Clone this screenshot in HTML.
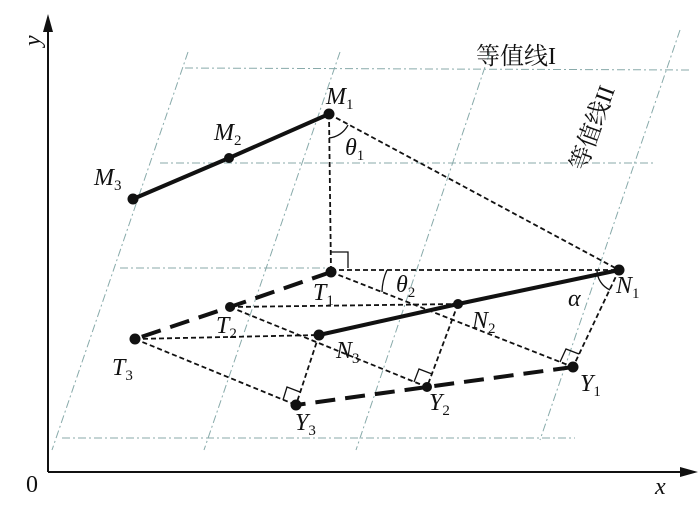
<!DOCTYPE html>
<html><head><meta charset="utf-8"><style>
html,body{margin:0;padding:0;background:#fff}
svg{display:block}
text{font-family:"Liberation Serif","Noto Serif CJK SC",serif;fill:#111}
.l{font-style:italic;font-size:24px}
.s{font-size:15px;font-style:normal}
</style></head><body>
<svg width="700" height="514" viewBox="0 0 700 514" xmlns="http://www.w3.org/2000/svg">
<g stroke="#8aa" stroke-width="1" stroke-dasharray="8,3,2,3" fill="none">
<line x1="185" y1="68" x2="690" y2="70"/>
<line x1="160" y1="163" x2="655" y2="163"/>
<line x1="120" y1="268" x2="330" y2="268"/>
<line x1="62" y1="438" x2="575" y2="438"/>
<line x1="188" y1="52" x2="52" y2="450"/>
<line x1="340" y1="52" x2="204" y2="450"/>
<line x1="490" y1="52" x2="356" y2="450"/>
<line x1="680" y1="30" x2="540" y2="440"/>
</g>
<g stroke="#111" stroke-width="1.8" fill="none" stroke-dasharray="5,3">
<line x1="329" y1="114" x2="331" y2="272"/>
<line x1="329" y1="114" x2="619" y2="270"/>
<line x1="331" y1="270" x2="619" y2="270"/>
<line x1="331" y1="272" x2="573" y2="367"/>
<line x1="230" y1="307" x2="458" y2="304"/>
<line x1="230" y1="307" x2="427" y2="387"/>
<line x1="135" y1="339" x2="319" y2="335"/>
<line x1="135" y1="339" x2="296" y2="405"/>
<line x1="619" y1="270" x2="573" y2="367"/>
<line x1="458" y1="304" x2="427" y2="387"/>
<line x1="319" y1="335" x2="296" y2="405"/>
</g>
<g stroke="#111" stroke-width="1.3" fill="none">
<polyline points="331,252 348,252 348,268"/>
<polyline points="579,354 566,349 560,362"/>
<polyline points="432,374 419,369 414,382"/>
<polyline points="300,392 287,387 283,400"/>
<path d="M329,138 A24,24 0 0 0 348,125"/>
<path d="M387,270 A56,56 0 0 0 382,292"/>
<path d="M597,270 A22,22 0 0 0 610,290"/>
</g>
<g stroke="#111" stroke-width="4" fill="none">
<polyline points="133,199 229,158 329,114"/>
<polyline points="319,335 458,304 619,270"/>
</g>
<g stroke="#111" stroke-width="4" fill="none" stroke-dasharray="20,10">
<polyline points="331,272 230,307 135,339"/>
<polyline points="573,367 427,387 296,405"/>
</g>
<g fill="#111">
<circle cx="329" cy="114" r="5.5"/><circle cx="229" cy="158" r="5"/><circle cx="133" cy="199" r="5.5"/>
<circle cx="331" cy="272" r="5.5"/><circle cx="230" cy="307" r="5"/><circle cx="135" cy="339" r="5.5"/>
<circle cx="619" cy="270" r="5.5"/><circle cx="458" cy="304" r="5"/><circle cx="319" cy="335" r="5.5"/>
<circle cx="573" cy="367" r="5.5"/><circle cx="427" cy="387" r="5"/><circle cx="296" cy="405" r="5.5"/>
</g>
<g stroke="#111" stroke-width="2" fill="#111">
<line x1="48" y1="472" x2="48" y2="22"/>
<line x1="48" y1="472" x2="690" y2="472"/>
</g>
<polygon points="48,14 43,32 53,32" fill="#111"/>
<polygon points="698,472 680,467 680,477" fill="#111"/>
<text x="26" y="44" class="l" transform="rotate(-90 34 38)">y</text>
<text x="655" y="494" class="l">x</text>
<text x="26" y="492" style="font-size:24px">0</text>
<text x="476" y="64" style="font-size:24px">等值线I</text>
<text x="0" y="0" style="font-size:24px" transform="translate(585,172) rotate(-70)">等值线II</text>
<text x="326" y="104" class="l">M<tspan class="s" dy="5">1</tspan></text>
<text x="214" y="140" class="l">M<tspan class="s" dy="5">2</tspan></text>
<text x="94" y="185" class="l">M<tspan class="s" dy="5">3</tspan></text>
<text x="345" y="155" class="l">θ<tspan class="s" dy="5">1</tspan></text>
<text x="396" y="292" class="l">θ<tspan class="s" dy="5">2</tspan></text>
<text x="568" y="306" class="l">α</text>
<text x="313" y="300" class="l">T<tspan class="s" dy="5">1</tspan></text>
<text x="216" y="333" class="l">T<tspan class="s" dy="5">2</tspan></text>
<text x="112" y="375" class="l">T<tspan class="s" dy="5">3</tspan></text>
<text x="616" y="293" class="l">N<tspan class="s" dy="5">1</tspan></text>
<text x="472" y="328" class="l">N<tspan class="s" dy="5">2</tspan></text>
<text x="336" y="358" class="l">N<tspan class="s" dy="5">3</tspan></text>
<text x="580" y="391" class="l">Y<tspan class="s" dy="5">1</tspan></text>
<text x="429" y="410" class="l">Y<tspan class="s" dy="5">2</tspan></text>
<text x="295" y="430" class="l">Y<tspan class="s" dy="5">3</tspan></text>
</svg>
</body></html>
